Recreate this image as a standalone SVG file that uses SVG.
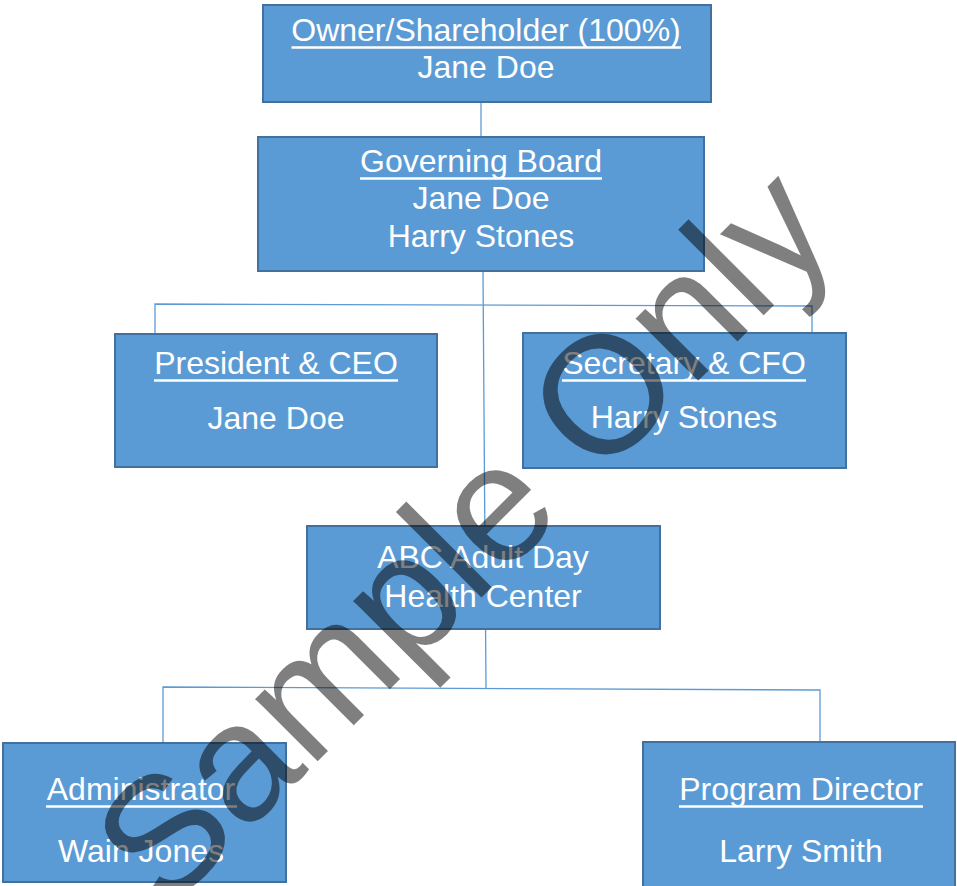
<svg xmlns="http://www.w3.org/2000/svg" width="957" height="886" viewBox="0 0 957 886">
<style>
.box{fill:#5B9BD5;stroke:#41719C;stroke-width:2}
.t{font-family:"Liberation Sans",Arial,sans-serif;font-size:32px;fill:#fff;text-anchor:middle}
.ul{stroke:#fff;stroke-width:2.5}
.c{stroke:#5B9BD5;stroke-width:1.3;fill:none}
.wm{font-family:"Liberation Sans",Arial,sans-serif;font-size:167px;fill:#000;fill-opacity:0.5;text-anchor:middle}
</style>
<rect width="957" height="886" fill="#fff"/>
<g id="connectors">
<line class="c" x1="481" y1="102" x2="481" y2="137"/>
<line class="c" x1="483" y1="272" x2="486" y2="688"/>
<polyline class="c" points="155,334 155,304 812,306 812,334"/>
<polyline class="c" points="163,743 163,687 820,690 820,742"/>
</g>
<g id="owner">
<rect class="box" x="263" y="5" width="448" height="97"/>
<text class="t" x="486" y="41">Owner/Shareholder (100%)</text>
<line class="ul" x1="291.5" y1="47.5" x2="681" y2="47.5"/>
<text class="t" x="486" y="78">Jane Doe</text>
</g>
<g id="board">
<rect class="box" x="258" y="137" width="446" height="134"/>
<text class="t" x="481" y="172">Governing Board</text>
<line class="ul" x1="360" y1="178.5" x2="602" y2="178.5"/>
<text class="t" x="481" y="209">Jane Doe</text>
<text class="t" x="481" y="247">Harry Stones</text>
</g>
<g id="president">
<rect class="box" x="115" y="334" width="322" height="133"/>
<text class="t" x="276" y="374">President &amp; CEO</text>
<line class="ul" x1="154" y1="380.5" x2="398" y2="380.5"/>
<text class="t" x="276" y="429">Jane Doe</text>
</g>
<g id="secretary">
<rect class="box" x="523" y="333" width="323" height="135"/>
<text class="t" x="684" y="374">Secretary &amp; CFO</text>
<line class="ul" x1="562" y1="380.5" x2="806" y2="380.5"/>
<text class="t" x="684" y="428">Harry Stones</text>
</g>
<g id="abc">
<rect class="box" x="307" y="526" width="353" height="103"/>
<text class="t" x="483" y="568">ABC Adult Day</text>
<text class="t" x="483" y="607">Health Center</text>
</g>
<g id="administrator">
<rect class="box" x="3" y="743" width="283" height="139"/>
<text class="t" x="141" y="800">Administrator</text>
<line class="ul" x1="46" y1="806.5" x2="237" y2="806.5"/>
<text class="t" x="141" y="862">Wain Jones</text>
</g>
<g id="program-director">
<rect class="box" x="643" y="742" width="312" height="150"/>
<text class="t" x="801" y="800">Program Director</text>
<line class="ul" x1="679" y1="806.5" x2="923" y2="806.5"/>
<text class="t" x="801" y="862">Larry Smith</text>
</g>
<g id="watermark">
<text class="wm" x="503" y="576" transform="rotate(-45 503 576)">Sample Only</text>
</g>
</svg>
